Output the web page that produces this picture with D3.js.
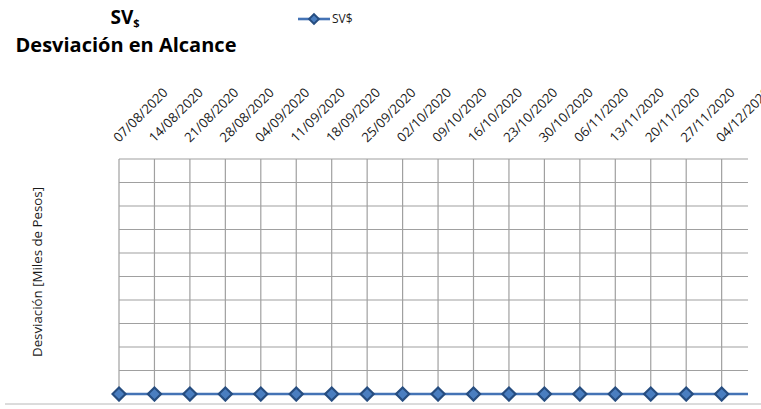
<!DOCTYPE html>
<html><head><meta charset="utf-8">
<script src="https://cdn.jsdelivr.net/npm/d3@7"></script>
<style>body{margin:0;background:#fff;}svg{display:block;}text{font-family:"Open Sans",sans-serif;}</style>
</head><body>
<script>
const categories = ["07/08/2020","14/08/2020","21/08/2020","28/08/2020","04/09/2020","11/09/2020","18/09/2020","25/09/2020","02/10/2020","09/10/2020","16/10/2020","23/10/2020","30/10/2020","06/11/2020","13/11/2020","20/11/2020","27/11/2020","04/12/2020","11/12/2020"];
const svValues = [0,0,0,0,0,0,0,0,0,0,0,0,0,0,0,0,0,0,0];
const yTicks = [0,1,2,3,4,5,6,7,8,9,10];
const seriesName = "SV$";

const W = 761, H = 409;
const plot = {left:119, right:748, top:159, bottom:394};
const step = 35.45;

const svg = d3.select("body").append("svg").attr("width",W).attr("height",H);

const x = d3.scaleLinear().domain([0,1]).range([plot.left, plot.left+step]);
const y = d3.scaleLinear().domain([0,10]).range([plot.bottom, plot.top]);

svg.append("defs").append("clipPath").attr("id","pc")
  .append("rect").attr("x",plot.left-8).attr("y",plot.top-8)
  .attr("width",plot.right-plot.left+8).attr("height",plot.bottom-plot.top+16);

const grid = "#a0a0a0";
svg.append("g").selectAll("line").data(yTicks).join("line")
  .attr("x1",plot.left).attr("x2",plot.right)
  .attr("y1",d=>y(d)).attr("y2",d=>y(d))
  .attr("stroke",grid).attr("stroke-width",1.2);

const visIdx = categories.map((c,i)=>i).filter(i=>x(i)<=plot.right);
svg.append("g").selectAll("line").data(visIdx).join("line")
  .attr("x1",i=>x(i)).attr("x2",i=>x(i))
  .attr("y1",plot.top).attr("y2",plot.bottom)
  .attr("stroke",grid).attr("stroke-width",1.2);

svg.append("line").attr("x1",5).attr("x2",W).attr("y1",404).attr("y2",404)
  .attr("stroke","#b8b8b8").attr("stroke-width",1);

svg.append("g").selectAll("text").data(visIdx).join("text")
  .attr("transform",i=>`translate(${x(i)},${143}) rotate(-45)`)
  .attr("text-anchor","start")
  .attr("font-size",13.2).attr("fill","#1a1a1a")
  .text(i=>categories[i]);

const g = svg.append("g").attr("clip-path","url(#pc)");
const line = d3.line().x((d,i)=>x(i)).y(d=>y(d));
g.append("path").datum(svValues).attr("d",line)
  .attr("fill","none").attr("stroke","#4473b5").attr("stroke-width",2.6);
const sym = d3.symbol().type(d3.symbolDiamond2).size(110);
g.selectAll("path.m").data(svValues).join("path").attr("class","m")
  .attr("d",sym).attr("transform",(d,i)=>`translate(${x(i)},${y(d)})`)
  .attr("fill","#4a7ec0").attr("stroke","#264d80").attr("stroke-width",2.2);

svg.append("text").attr("transform",`translate(42,${272}) rotate(-90)`)
  .attr("text-anchor","middle").attr("font-size",13.3).attr("fill","#1a1a1a")
  .text("Desviación [Miles de Pesos]");

const t1 = svg.append("text").attr("x",125).attr("y",24).attr("text-anchor","middle")
  .attr("font-size",19).attr("font-weight","bold").attr("fill","#000");
t1.append("tspan").text("SV");
t1.append("tspan").attr("font-size",11).attr("dy",3).text("$");
svg.append("text").attr("x",126).attr("y",52).attr("text-anchor","middle")
  .attr("font-size",20).attr("font-weight","bold").attr("fill","#000")
  .text("Desviación en Alcance");

const lg = svg.append("g");
lg.append("line").attr("x1",298).attr("x2",330).attr("y1",19).attr("y2",19)
  .attr("stroke","#4473b5").attr("stroke-width",2.6);
lg.append("path").attr("d",d3.symbol().type(d3.symbolDiamond2).size(60))
  .attr("transform","translate(314,19)")
  .attr("fill","#4a7ec0").attr("stroke","#264d80").attr("stroke-width",2);
lg.append("text").attr("x",332).attr("y",23).attr("font-size",12).attr("fill","#1a1a1a").text(seriesName);
</script>
</body></html>
